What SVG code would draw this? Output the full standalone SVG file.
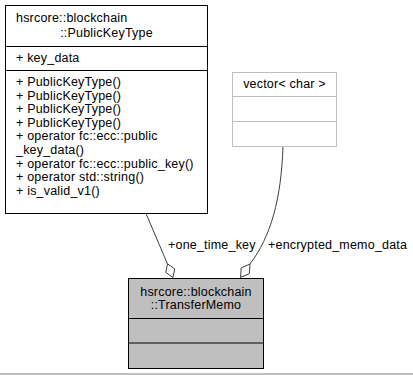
<svg xmlns="http://www.w3.org/2000/svg" width="413" height="375" viewBox="0 0 413 375">
  <style>
    text { font-family: "Liberation Sans", Arial, Helvetica, sans-serif; font-size: 12.5px; letter-spacing: 0.2px; fill: #000; }
    .mid { text-anchor: middle; }
    .box { fill: #fff; stroke: #000; stroke-width: 1; }
    .box-ext { fill: #fff; stroke: #bfbfbf; stroke-width: 1; }
    .box-main { fill: #bfbfbf; stroke: #000; stroke-width: 1; }
    .sep { stroke: #000; stroke-width: 1; }
    .sep-ext { stroke: #bfbfbf; stroke-width: 1; }
    .edge { fill: none; stroke: #404040; stroke-width: 1; }
    .diamond { fill: #fff; stroke: #404040; stroke-width: 1; }
  </style>

  <rect x="0" y="0" width="413" height="375" fill="#fff"/>

  <!-- hsrcore::blockchain::PublicKeyType -->
  <g id="node-publickeytype">
    <rect class="box" x="5.5" y="5.5" width="202" height="208"/>
    <text x="16" y="21.5">hsrcore::blockchain</text>
    <text class="mid" x="106.5" y="36.5">::PublicKeyType</text>
    <line class="sep" x1="5.5" y1="46.5" x2="207.5" y2="46.5"/>
    <text x="16" y="61.5">+ key_data</text>
    <line class="sep" x1="5.5" y1="70.5" x2="207.5" y2="70.5"/>
    <text x="16" y="86">+ PublicKeyType()</text>
    <text x="16" y="99.6">+ PublicKeyType()</text>
    <text x="16" y="113.2">+ PublicKeyType()</text>
    <text x="16" y="126.8">+ PublicKeyType()</text>
    <text x="16" y="140.4">+ operator fc::ecc::public</text>
    <text x="16" y="154">_key_data()</text>
    <text x="16" y="167.6">+ operator fc::ecc::public_key()</text>
    <text x="16" y="181.2">+ operator std::string()</text>
    <text x="16" y="194.8">+ is_valid_v1()</text>
  </g>

  <!-- vector< char > -->
  <g id="node-vector-char">
    <rect class="box-ext" x="232.5" y="72.5" width="104" height="74"/>
    <text class="mid" x="284.5" y="88">vector&lt; char &gt;</text>
    <line class="sep-ext" x1="232.5" y1="96.5" x2="336.5" y2="96.5"/>
    <line class="sep-ext" x1="232.5" y1="121.5" x2="336.5" y2="121.5"/>
  </g>

  <!-- hsrcore::blockchain::TransferMemo -->
  <g id="node-transfermemo">
    <rect class="box-main" x="128.5" y="278.5" width="135" height="90"/>
    <text class="mid" x="196" y="295.5">hsrcore::blockchain</text>
    <text class="mid" x="196" y="309">::TransferMemo</text>
    <line class="sep" x1="128.5" y1="318.5" x2="263.5" y2="318.5"/>
    <line class="sep" x1="128.5" y1="343" x2="263.5" y2="343"/>
  </g>

  <!-- aggregation edges -->
  <g id="connectors">
    <path class="edge" d="M146,213.5 L167.5,264"/>
    <polygon class="diamond" points="173,277.5 174.7,268.9 167.5,263.8 165.8,272.4"/>
    <text x="168" y="249.3">+one_time_key</text>

    <path class="edge" d="M283,147 C281,200 271,236 250,264"/>
    <polygon class="diamond" points="240.5,277.5 249.3,273.6 250,264 241.2,267.9"/>
    <text x="268" y="249.3">+encrypted_memo_data</text>
  </g>

  <line x1="0" y1="374" x2="413" y2="374" stroke="#808080" stroke-width="1"/>
</svg>
